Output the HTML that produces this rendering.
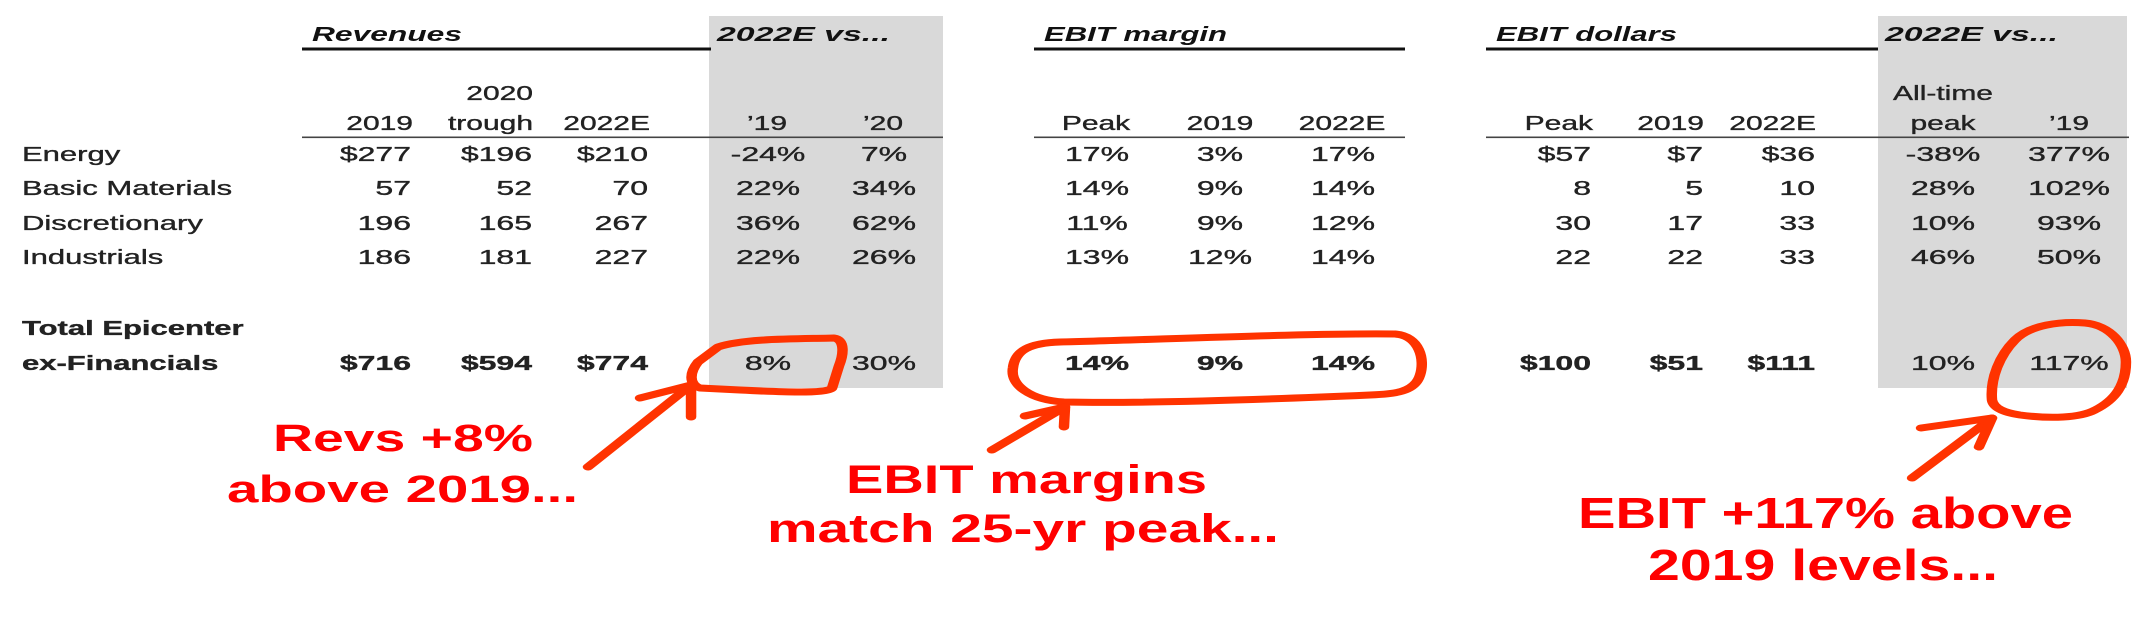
<!DOCTYPE html>
<html>
<head>
<meta charset="utf-8">
<style>
  html, body { margin: 0; padding: 0; background: #ffffff; }
  svg { display: block; }
  .t { font-family: "Liberation Sans", Arial, sans-serif; font-size: 20px; fill: #222; stroke: #222; stroke-width: 0.35px; }
  .b { font-weight: bold; }
  .ttl { font-family: "Liberation Sans", Arial, sans-serif; font-size: 20.5px; font-weight: bold; font-style: italic; fill: #111; }
  .red { font-family: "Liberation Sans", Arial, sans-serif; font-weight: bold; fill: #ff0000; }
</style>
</head>
<body>
<svg width="2141" height="617" viewBox="0 0 2141 617" xmlns="http://www.w3.org/2000/svg">
  <rect x="0" y="0" width="2141" height="617" fill="#ffffff"/>

  <!-- gray boxes -->
  <rect x="709" y="16" width="234" height="372" fill="#d9d9d9"/>
  <rect x="1878" y="16" width="249" height="372" fill="#d9d9d9"/>

  <!-- thick underlines -->
  <rect x="302" y="47.5" width="409" height="3" fill="#111"/>
  <rect x="1034" y="47.5" width="371" height="3" fill="#111"/>
  <rect x="1486" y="47.5" width="392" height="3" fill="#111"/>

  <!-- thin header lines -->
  <rect x="302" y="136.5" width="641" height="1.6" fill="#444"/>
  <rect x="1034" y="136.5" width="371" height="1.6" fill="#444"/>
  <rect x="1486" y="136.5" width="643" height="1.6" fill="#444"/>

  <!-- titles -->
  <text class="ttl" x="312" y="41" textLength="150" lengthAdjust="spacingAndGlyphs">Revenues</text>
  <text class="ttl" x="717" y="41" textLength="173" lengthAdjust="spacingAndGlyphs">2022E vs...</text>
  <text class="ttl" x="1044" y="41" textLength="183" lengthAdjust="spacingAndGlyphs">EBIT margin</text>
  <text class="ttl" x="1496" y="41" textLength="181" lengthAdjust="spacingAndGlyphs">EBIT dollars</text>
  <text class="ttl" x="1885" y="41" textLength="173" lengthAdjust="spacingAndGlyphs">2022E vs...</text>

  <!-- headers (scale 1.5) -->
  <g class="t">
    <text transform="translate(533,100) scale(1.5,1)" text-anchor="end">2020</text>
    <text transform="translate(1943,100) scale(1.5,1)" text-anchor="middle">All-time</text>

    <text transform="translate(413,130) scale(1.5,1)" text-anchor="end">2019</text>
    <text transform="translate(533,130) scale(1.5,1)" text-anchor="end">trough</text>
    <text transform="translate(650,130) scale(1.5,1)" text-anchor="end">2022E</text>
    <text transform="translate(767,130) scale(1.5,1)" text-anchor="middle">’19</text>
    <text transform="translate(883,130) scale(1.5,1)" text-anchor="middle">’20</text>

    <text transform="translate(1096,130) scale(1.5,1)" text-anchor="middle">Peak</text>
    <text transform="translate(1220,130) scale(1.5,1)" text-anchor="middle">2019</text>
    <text transform="translate(1342,130) scale(1.5,1)" text-anchor="middle">2022E</text>

    <text transform="translate(1593,130) scale(1.5,1)" text-anchor="end">Peak</text>
    <text transform="translate(1704,130) scale(1.5,1)" text-anchor="end">2019</text>
    <text transform="translate(1816,130) scale(1.5,1)" text-anchor="end">2022E</text>
    <text transform="translate(1943,130) scale(1.5,1)" text-anchor="middle">peak</text>
    <text transform="translate(2069,130) scale(1.5,1)" text-anchor="middle">’19</text>
  </g>

  <!-- row labels (scale 1.55) -->
  <g class="t">
    <text transform="translate(22,161) scale(1.55,1)">Energy</text>
    <text transform="translate(22,195) scale(1.55,1)">Basic Materials</text>
    <text transform="translate(22,230) scale(1.55,1)">Discretionary</text>
    <text transform="translate(22,264) scale(1.55,1)">Industrials</text>
    <text class="b" transform="translate(22,335) scale(1.55,1)">Total Epicenter</text>
    <text class="b" transform="translate(22,370) scale(1.55,1)">ex-Financials</text>
  </g>

  <!-- data (scale 1.6) -->
  <g class="t">
    <!-- Energy -->
    <text transform="translate(411,161) scale(1.6,1)" text-anchor="end">$277</text>
    <text transform="translate(532,161) scale(1.6,1)" text-anchor="end">$196</text>
    <text transform="translate(648,161) scale(1.6,1)" text-anchor="end">$210</text>
    <text transform="translate(768,161) scale(1.6,1)" text-anchor="middle">-24%</text>
    <text transform="translate(884,161) scale(1.6,1)" text-anchor="middle">7%</text>
    <text transform="translate(1097,161) scale(1.6,1)" text-anchor="middle">17%</text>
    <text transform="translate(1220,161) scale(1.6,1)" text-anchor="middle">3%</text>
    <text transform="translate(1343,161) scale(1.6,1)" text-anchor="middle">17%</text>
    <text transform="translate(1591,161) scale(1.6,1)" text-anchor="end">$57</text>
    <text transform="translate(1703,161) scale(1.6,1)" text-anchor="end">$7</text>
    <text transform="translate(1815,161) scale(1.6,1)" text-anchor="end">$36</text>
    <text transform="translate(1943,161) scale(1.6,1)" text-anchor="middle">-38%</text>
    <text transform="translate(2069,161) scale(1.6,1)" text-anchor="middle">377%</text>

    <!-- Basic Materials -->
    <text transform="translate(411,195) scale(1.6,1)" text-anchor="end">57</text>
    <text transform="translate(532,195) scale(1.6,1)" text-anchor="end">52</text>
    <text transform="translate(648,195) scale(1.6,1)" text-anchor="end">70</text>
    <text transform="translate(768,195) scale(1.6,1)" text-anchor="middle">22%</text>
    <text transform="translate(884,195) scale(1.6,1)" text-anchor="middle">34%</text>
    <text transform="translate(1097,195) scale(1.6,1)" text-anchor="middle">14%</text>
    <text transform="translate(1220,195) scale(1.6,1)" text-anchor="middle">9%</text>
    <text transform="translate(1343,195) scale(1.6,1)" text-anchor="middle">14%</text>
    <text transform="translate(1591,195) scale(1.6,1)" text-anchor="end">8</text>
    <text transform="translate(1703,195) scale(1.6,1)" text-anchor="end">5</text>
    <text transform="translate(1815,195) scale(1.6,1)" text-anchor="end">10</text>
    <text transform="translate(1943,195) scale(1.6,1)" text-anchor="middle">28%</text>
    <text transform="translate(2069,195) scale(1.6,1)" text-anchor="middle">102%</text>

    <!-- Discretionary -->
    <text transform="translate(411,230) scale(1.6,1)" text-anchor="end">196</text>
    <text transform="translate(532,230) scale(1.6,1)" text-anchor="end">165</text>
    <text transform="translate(648,230) scale(1.6,1)" text-anchor="end">267</text>
    <text transform="translate(768,230) scale(1.6,1)" text-anchor="middle">36%</text>
    <text transform="translate(884,230) scale(1.6,1)" text-anchor="middle">62%</text>
    <text transform="translate(1097,230) scale(1.6,1)" text-anchor="middle">11%</text>
    <text transform="translate(1220,230) scale(1.6,1)" text-anchor="middle">9%</text>
    <text transform="translate(1343,230) scale(1.6,1)" text-anchor="middle">12%</text>
    <text transform="translate(1591,230) scale(1.6,1)" text-anchor="end">30</text>
    <text transform="translate(1703,230) scale(1.6,1)" text-anchor="end">17</text>
    <text transform="translate(1815,230) scale(1.6,1)" text-anchor="end">33</text>
    <text transform="translate(1943,230) scale(1.6,1)" text-anchor="middle">10%</text>
    <text transform="translate(2069,230) scale(1.6,1)" text-anchor="middle">93%</text>

    <!-- Industrials -->
    <text transform="translate(411,264) scale(1.6,1)" text-anchor="end">186</text>
    <text transform="translate(532,264) scale(1.6,1)" text-anchor="end">181</text>
    <text transform="translate(648,264) scale(1.6,1)" text-anchor="end">227</text>
    <text transform="translate(768,264) scale(1.6,1)" text-anchor="middle">22%</text>
    <text transform="translate(884,264) scale(1.6,1)" text-anchor="middle">26%</text>
    <text transform="translate(1097,264) scale(1.6,1)" text-anchor="middle">13%</text>
    <text transform="translate(1220,264) scale(1.6,1)" text-anchor="middle">12%</text>
    <text transform="translate(1343,264) scale(1.6,1)" text-anchor="middle">14%</text>
    <text transform="translate(1591,264) scale(1.6,1)" text-anchor="end">22</text>
    <text transform="translate(1703,264) scale(1.6,1)" text-anchor="end">22</text>
    <text transform="translate(1815,264) scale(1.6,1)" text-anchor="end">33</text>
    <text transform="translate(1943,264) scale(1.6,1)" text-anchor="middle">46%</text>
    <text transform="translate(2069,264) scale(1.6,1)" text-anchor="middle">50%</text>

    <!-- Totals -->
    <text class="b" transform="translate(411,370) scale(1.6,1)" text-anchor="end">$716</text>
    <text class="b" transform="translate(532,370) scale(1.6,1)" text-anchor="end">$594</text>
    <text class="b" transform="translate(648,370) scale(1.6,1)" text-anchor="end">$774</text>
    <text transform="translate(768,370) scale(1.6,1)" text-anchor="middle">8%</text>
    <text transform="translate(884,370) scale(1.6,1)" text-anchor="middle">30%</text>
    <text class="b" transform="translate(1097,370) scale(1.6,1)" text-anchor="middle">14%</text>
    <text class="b" transform="translate(1220,370) scale(1.6,1)" text-anchor="middle">9%</text>
    <text class="b" transform="translate(1343,370) scale(1.6,1)" text-anchor="middle">14%</text>
    <text class="b" transform="translate(1591,370) scale(1.6,1)" text-anchor="end">$100</text>
    <text class="b" transform="translate(1703,370) scale(1.6,1)" text-anchor="end">$51</text>
    <text class="b" transform="translate(1815,370) scale(1.6,1)" text-anchor="end">$111</text>
    <text transform="translate(1943,370) scale(1.6,1)" text-anchor="middle">10%</text>
    <text transform="translate(2069,370) scale(1.6,1)" text-anchor="middle">117%</text>
  </g>

  <!-- hand-drawn red annotations (drawn in x/1.5 space, stretched) -->
  <g transform="scale(1.5,1)" fill="none" stroke="#ff3300" stroke-width="7" stroke-linecap="round" stroke-linejoin="round">
    <!-- loop around 8% -->
    <path d="M 466.7,388 C 458.7,384 460,372 465.3,362 L 478.7,347 C 496.7,338 533.3,339 556,338 C 564,340 562,356 559.3,366 L 554.7,388 C 550.7,394 520,392 493.3,390 Z"/>
    <!-- arrow 1 -->
    <path d="M 392,467 L 460.7,385"/>
    <path d="M 426.7,398 L 460.7,385 L 460.7,417"/>

    <!-- ellipse around margin totals -->
    <path d="M 709.3,402 C 686.7,400 673.3,385 675.3,368 C 676.7,350 686.7,343 706.7,342 C 766.7,340 866.7,333 930,334 C 946.7,336 950,360 946.7,375 C 943.3,392 930,394 913.3,395 C 866.7,398 766.7,404 709.3,402 Z"/>
    <!-- arrow 2 -->
    <path d="M 661.3,450 L 710,407"/>
    <path d="M 683.3,416 L 710,407 L 709.3,427"/>

    <!-- loop around 117% -->
    <path d="M 1328,400 C 1326.7,378 1333.3,355 1343.3,340 C 1353.3,325 1373.3,321 1390,323 C 1406.7,325 1417.3,345 1417.3,362 C 1417.3,385 1410,400 1396.7,410 C 1386.7,418 1366.7,419 1346.7,415 C 1333.3,412 1328.7,406 1328,400 Z"/>
    <!-- arrow 3 -->
    <path d="M 1274.7,478 L 1328,418"/>
    <path d="M 1280.7,428 L 1328,418 L 1319.3,447"/>
  </g>

  <!-- red annotation text -->
  <text class="red" x="273" y="451" font-size="38" textLength="260" lengthAdjust="spacingAndGlyphs">Revs +8%</text>
  <text class="red" x="227" y="502" font-size="38" textLength="351" lengthAdjust="spacingAndGlyphs">above 2019...</text>

  <text class="red" x="846" y="493" font-size="40" textLength="361" lengthAdjust="spacingAndGlyphs">EBIT margins</text>
  <text class="red" x="767" y="542" font-size="40" textLength="512" lengthAdjust="spacingAndGlyphs">match 25-yr peak...</text>

  <text class="red" x="1578" y="528" font-size="44" textLength="495" lengthAdjust="spacingAndGlyphs">EBIT +117% above</text>
  <text class="red" x="1648" y="580" font-size="44" textLength="350" lengthAdjust="spacingAndGlyphs">2019 levels...</text>
</svg>
</body>
</html>
